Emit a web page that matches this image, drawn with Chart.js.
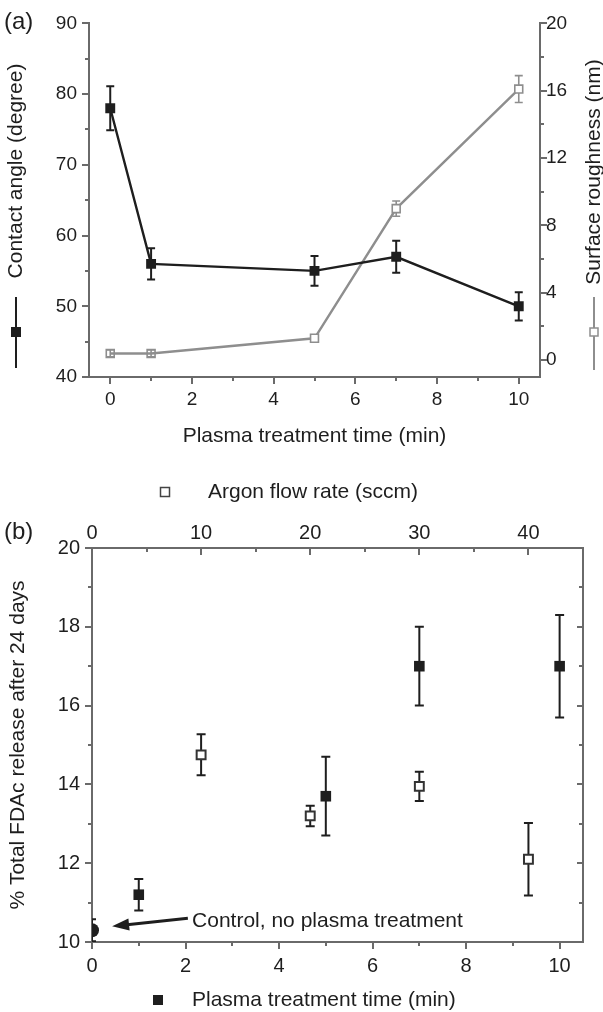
<!DOCTYPE html>
<html>
<head>
<meta charset="utf-8">
<script src="https://cdn.jsdelivr.net/npm/chart.js@4.4.1/dist/chart.umd.min.js"></script>
<style>
  html, body { margin: 0; padding: 0; background: #fff; }
  #wrap { position: relative; width: 603px; height: 1012px; }
  canvas { position: absolute; left: 0; }
  #chartA { top: 0; }
  #chartB { top: 470px; }
</style>
</head>
<body>
<div id="wrap">
  <canvas id="chartA" width="603" height="470"></canvas>
  <canvas id="chartB" width="603" height="542"></canvas>
</div>
<script>
// ---- panel (a) data ----
const timeMin = [0, 1, 5, 7, 10];
const contactAngle = [78, 56, 55, 57, 50];
const contactAngleErr = [3.1, 2.2, 2.1, 2.25, 2.0];
const roughness = [0.4, 0.4, 1.3, 9.0, 16.1];
const roughnessErr = [0.2, 0.2, 0.1, 0.45, 0.8];
const timeTicksA = [0, 2, 4, 6, 8, 10];
const angleTicks = [40, 50, 60, 70, 80, 90];
const roughTicks = [0, 4, 8, 12, 16, 20];

// ---- panel (b) data ----
const plasmaTime = [1, 5, 7, 10];
const releasePlasma = [11.2, 13.7, 17.0, 17.0];
const releasePlasmaErr = [0.4, 1.0, 1.0, 1.3];
const argonFlow = [10, 20, 30, 40];
const releaseArgon = [14.75, 13.2, 13.95, 12.1];
const releaseArgonErr = [0.52, 0.26, 0.37, 0.92];
const controlTime = [0];
const controlRelease = [10.3];
const controlErr = [0.28];
const timeTicksB = [0, 2, 4, 6, 8, 10];
const argonTicks = [0, 10, 20, 30, 40];
const releaseTicks = [10, 12, 14, 16, 18, 20];

// annotation for the control point (data units)
const controlNote = 'Control, no plasma treatment';
const noteText = { x: 2.14, y: 10.52 };
const noteArrowFrom = { x: 2.05, y: 10.6 };
const noteArrowTo = { x: 0.43, y: 10.4 };

const AXIS = '#6a6a6a';
const INK = '#1e1e1e';
const GREY = '#8e8e8e';
const FONT = '"Liberation Sans", Arial, sans-serif';

Chart.defaults.font.family = FONT;
Chart.defaults.color = INK;

function pts(xs, ys, es) {
  return xs.map((x, i) => ({ x: x, y: ys[i], err: es[i] }));
}
function mids(arr) {
  const out = [];
  for (let i = 0; i < arr.length - 1; i++) out.push((arr[i] + arr[i + 1]) / 2);
  return out;
}
function fixTicks(values) {
  return scale => { scale.ticks = values.map(v => ({ value: v })); };
}

function text(ctx, str, x, y, opt) {
  opt = opt || {};
  ctx.save();
  ctx.font = (opt.size || 21) + 'px ' + FONT;
  ctx.fillStyle = opt.color || INK;
  ctx.textAlign = opt.align || 'left';
  ctx.textBaseline = 'middle';
  ctx.translate(x, y);
  if (opt.rotate) ctx.rotate(-Math.PI / 2);
  ctx.fillText(str, 0, 0);
  ctx.restore();
}
function square(ctx, x, y, size, fill, stroke, lw) {
  ctx.save();
  if (fill) { ctx.fillStyle = fill; ctx.fillRect(x - size / 2, y - size / 2, size, size); }
  if (stroke) { ctx.strokeStyle = stroke; ctx.lineWidth = lw || 1.5; ctx.strokeRect(x - size / 2, y - size / 2, size, size); }
  ctx.restore();
}
function segment(ctx, x1, y1, x2, y2, color, lw) {
  ctx.save();
  ctx.strokeStyle = color; ctx.lineWidth = lw;
  ctx.beginPath(); ctx.moveTo(x1, y1); ctx.lineTo(x2, y2); ctx.stroke();
  ctx.restore();
}

// error bars, drawn under the markers
const errorBars = {
  id: 'errorBars',
  beforeDatasetsDraw(chart) {
    const { ctx, chartArea: a } = chart;
    ctx.save();
    ctx.beginPath();
    ctx.rect(a.left, a.top, a.right - a.left, a.bottom - a.top);
    ctx.clip();
    chart.data.datasets.forEach((ds, di) => {
      if (!ds.errColor) return;
      const meta = chart.getDatasetMeta(di);
      const xs = chart.scales[meta.xAxisID];
      const ys = chart.scales[meta.yAxisID];
      ctx.strokeStyle = ds.errColor;
      ctx.lineWidth = ds.errWidth || 2;
      const c = ds.capHalf || 4;
      ds.data.forEach(p => {
        const x = xs.getPixelForValue(p.x);
        const y1 = ys.getPixelForValue(p.y + p.err);
        const y2 = ys.getPixelForValue(p.y - p.err);
        ctx.beginPath();
        ctx.moveTo(x, y1); ctx.lineTo(x, y2);
        ctx.moveTo(x - c, y1); ctx.lineTo(x + c, y1);
        ctx.moveTo(x - c, y2); ctx.lineTo(x + c, y2);
        ctx.stroke();
      });
    });
    ctx.restore();
  }
};

// major / minor tick marks
function makeTickMarks(sets) {
  return {
    id: 'tickMarks',
    afterDraw(chart) {
      const ctx = chart.ctx;
      ctx.save();
      ctx.strokeStyle = AXIS;
      ctx.lineWidth = 2;
      sets.forEach(set => {
        const s = chart.scales[set.axis];
        let edge, sign;
        if (s.position === 'left') { edge = s.right; sign = -1; }
        else if (s.position === 'right') { edge = s.left; sign = 1; }
        else if (s.position === 'bottom') { edge = s.top; sign = 1; }
        else { edge = s.bottom; sign = -1; }
        if (set.inward) sign = -sign;
        set.values.forEach(v => {
          const p = Math.round(s.getPixelForValue(v));
          ctx.beginPath();
          if (s.isHorizontal()) { ctx.moveTo(p, edge); ctx.lineTo(p, edge + sign * set.len); }
          else { ctx.moveTo(edge, p); ctx.lineTo(edge + sign * set.len, p); }
          ctx.stroke();
        });
      });
      ctx.restore();
    }
  };
}

function axisOpts(extra) {
  return Object.assign({
    type: 'linear',
    grid: { display: false, drawTicks: false },
    border: { display: true, color: AXIS, width: 2 }
  }, extra);
}

// ---------------- panel (a) ----------------
const decorA = {
  id: 'decorA',
  afterDraw(chart) {
    const { ctx, chartArea: a } = chart;
    text(ctx, '(a)', 4, 22, { size: 24 });
    text(ctx, 'Contact angle (degree)', 16, 171, { rotate: true, align: 'center' });
    segment(ctx, 16, 297, 16, 368, INK, 2);
    square(ctx, 16, 332, 10, INK);
    text(ctx, 'Surface roughness (nm)', 594, 172, { rotate: true, align: 'center' });
    segment(ctx, 594, 297, 594, 370, GREY, 2);
    square(ctx, 594, 332, 8, '#fff', GREY, 1.5);
    text(ctx, 'Plasma treatment time (min)', (a.left + a.right) / 2, a.bottom + 59, { align: 'center' });
  }
};

new Chart(document.getElementById('chartA'), {
  type: 'scatter',
  data: {
    datasets: [
      {
        label: 'Contact angle (degree)',
        data: pts(timeMin, contactAngle, contactAngleErr),
        yAxisID: 'y',
        showLine: true,
        borderColor: INK,
        borderWidth: 2.4,
        pointStyle: 'rect',
        pointRadius: 7,
        pointBackgroundColor: INK,
        pointBorderColor: INK,
        pointBorderWidth: 0,
        errColor: INK, errWidth: 2, capHalf: 4
      },
      {
        label: 'Surface roughness (nm)',
        data: pts(timeMin, roughness, roughnessErr),
        yAxisID: 'y1',
        showLine: true,
        borderColor: GREY,
        borderWidth: 2.4,
        pointStyle: 'rect',
        pointRadius: 5.6,
        pointBackgroundColor: c => (c.dataIndex < 2 ? 'rgba(255,255,255,0)' : '#fff'),
        pointBorderColor: GREY,
        pointBorderWidth: 1.6,
        errColor: GREY, errWidth: 1.6, capHalf: 4
      }
    ]
  },
  options: {
    responsive: false,
    animation: false,
    devicePixelRatio: 1,
    layout: { padding: { top: 15, left: 0, right: 0, bottom: 0 } },
    plugins: { legend: { display: false }, tooltip: { enabled: false } },
    scales: {
      x: axisOpts({
        position: 'bottom', min: -0.52, max: 10.52,
        afterBuildTicks: fixTicks(timeTicksA),
        afterFit: s => { s.height = 93; },
        ticks: { padding: 11, font: { size: 19 }, color: INK }
      }),
      y: axisOpts({
        position: 'left', min: 40, max: 90,
        afterBuildTicks: fixTicks(angleTicks),
        afterFit: s => { s.width = 89; },
        ticks: { padding: 12, font: { size: 19 }, color: INK }
      }),
      y1: axisOpts({
        position: 'right', min: -1, max: 20,
        afterBuildTicks: fixTicks(roughTicks),
        afterFit: s => { s.width = 63; },
        ticks: { padding: 6, font: { size: 19 }, color: INK }
      })
    }
  },
  plugins: [
    errorBars,
    makeTickMarks([
      { axis: 'x', values: timeTicksA, len: 7 },
      { axis: 'x', values: mids(timeTicksA), len: 4 },
      { axis: 'y', values: angleTicks, len: 7 },
      { axis: 'y', values: mids(angleTicks), len: 4 },
      { axis: 'y1', values: roughTicks, len: 7 },
      { axis: 'y1', values: mids(roughTicks), len: 4 }
    ]),
    decorA
  ]
});

// ---------------- panel (b) ----------------
const decorB = {
  id: 'decorB',
  afterDraw(chart) {
    const { ctx, chartArea: a } = chart;
    const xs = chart.scales.x, ys = chart.scales.y;
    text(ctx, '(b)', 4, 62, { size: 24 });
    square(ctx, 165, 22, 9, '#fff', '#444', 1.5);
    text(ctx, 'Argon flow rate (sccm)', 208, 22);
    text(ctx, '% Total FDAc release after 24 days', 18, (a.top + a.bottom) / 2, { rotate: true, align: 'center' });
    square(ctx, 158, 530, 10, INK);
    text(ctx, 'Plasma treatment time (min)', 192, 530);

    // arrow to the control point
    const x1 = xs.getPixelForValue(noteArrowFrom.x), y1 = ys.getPixelForValue(noteArrowFrom.y);
    const x2 = xs.getPixelForValue(noteArrowTo.x), y2 = ys.getPixelForValue(noteArrowTo.y);
    const ang = Math.atan2(y2 - y1, x2 - x1);
    const head = 17, half = 6;
    const bx = x2 - head * Math.cos(ang), by = y2 - head * Math.sin(ang);
    segment(ctx, x1, y1, bx + 2 * Math.cos(ang), by + 2 * Math.sin(ang), INK, 3);
    ctx.save();
    ctx.fillStyle = INK;
    ctx.beginPath();
    ctx.moveTo(x2, y2);
    ctx.lineTo(bx + half * Math.sin(ang), by - half * Math.cos(ang));
    ctx.lineTo(bx - half * Math.sin(ang), by + half * Math.cos(ang));
    ctx.closePath();
    ctx.fill();
    ctx.restore();
    text(ctx, controlNote, xs.getPixelForValue(noteText.x), ys.getPixelForValue(noteText.y));
  }
};

new Chart(document.getElementById('chartB'), {
  type: 'scatter',
  data: {
    datasets: [
      {
        label: 'Plasma treatment time (min)',
        data: pts(plasmaTime, releasePlasma, releasePlasmaErr),
        xAxisID: 'x', yAxisID: 'y',
        pointStyle: 'rect',
        pointRadius: 7.5,
        pointBackgroundColor: INK,
        pointBorderWidth: 0,
        errColor: INK, errWidth: 2, capHalf: 4.5
      },
      {
        label: 'Argon flow rate (sccm)',
        data: pts(argonFlow, releaseArgon, releaseArgonErr),
        xAxisID: 'x2', yAxisID: 'y',
        pointStyle: 'rect',
        pointRadius: 6.3,
        pointBackgroundColor: '#fff',
        pointBorderColor: '#333',
        pointBorderWidth: 2,
        errColor: INK, errWidth: 2, capHalf: 4.5
      },
      {
        label: 'Control',
        data: pts(controlTime, controlRelease, controlErr),
        xAxisID: 'x', yAxisID: 'y',
        clip: 0,
        pointStyle: 'circle',
        pointRadius: 7,
        pointBackgroundColor: INK,
        pointBorderWidth: 0,
        errColor: INK, errWidth: 2, capHalf: 4
      }
    ]
  },
  options: {
    responsive: false,
    animation: false,
    devicePixelRatio: 1,
    layout: { padding: 0 },
    plugins: { legend: { display: false }, tooltip: { enabled: false } },
    scales: {
      x: axisOpts({
        position: 'bottom', min: 0, max: 10.5,
        afterBuildTicks: fixTicks(timeTicksB),
        afterFit: s => { s.height = 70; },
        ticks: { padding: 12, font: { size: 20 }, color: INK }
      }),
      x2: axisOpts({
        position: 'top', min: 0, max: 45,
        afterBuildTicks: fixTicks(argonTicks),
        afterFit: s => { s.height = 78; },
        ticks: { padding: 3, font: { size: 20 }, color: INK }
      }),
      y: axisOpts({
        position: 'left', min: 10, max: 20,
        afterBuildTicks: fixTicks(releaseTicks),
        afterFit: s => { s.width = 92; },
        ticks: { padding: 12, font: { size: 20 }, color: INK }
      }),
      yR: axisOpts({
        position: 'right', min: 10, max: 20,
        afterFit: s => { s.width = 20; },
        ticks: { display: false }
      })
    }
  },
  plugins: [
    errorBars,
    makeTickMarks([
      { axis: 'x', values: timeTicksB, len: 7 },
      { axis: 'x', values: mids(timeTicksB), len: 4 },
      { axis: 'x2', values: argonTicks, len: 7, inward: true },
      { axis: 'x2', values: mids(argonTicks), len: 4, inward: true },
      { axis: 'y', values: releaseTicks, len: 7 },
      { axis: 'y', values: mids(releaseTicks), len: 4 },
      { axis: 'yR', values: releaseTicks, len: 6, inward: true },
      { axis: 'yR', values: mids(releaseTicks), len: 4, inward: true }
    ]),
    decorB
  ]
});
</script>
</body>
</html>
